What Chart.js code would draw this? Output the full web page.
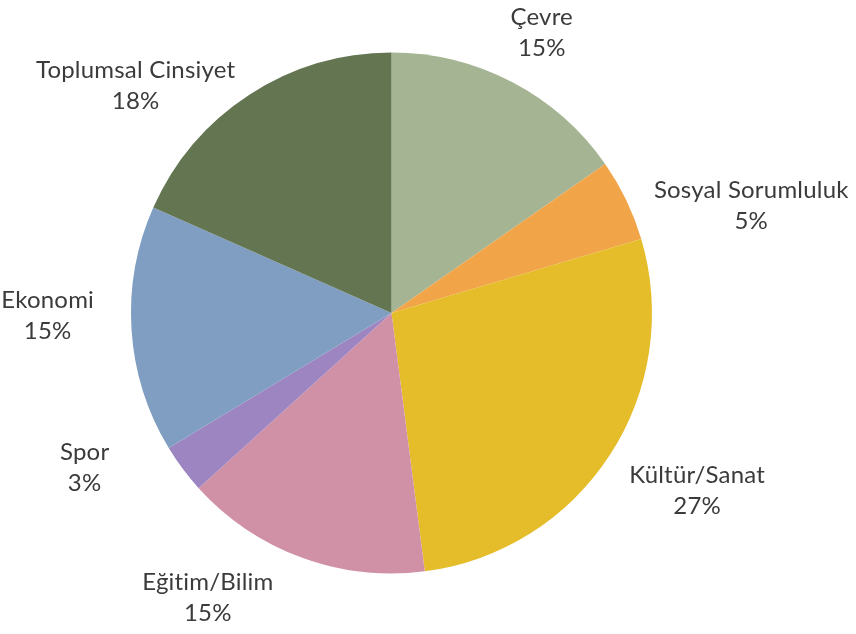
<!DOCTYPE html>
<html lang="tr">
<head>
<meta charset="utf-8">
<title>Konu Dağılımı</title>
<script src="https://cdn.jsdelivr.net/npm/chart.js@4/dist/chart.umd.min.js"></script>
<style>
    html, body { margin: 0; padding: 0; background: #fff; }
    #wrap { width: 856px; height: 634px; position: relative; }
</style>
</head>
<body>
<div id="wrap"><canvas id="pie"></canvas></div>
<script>
// konular ve yüzdeleri (saat yönünde, tepeden başlayarak)
const categories = ['Çevre', 'Sosyal Sorumluluk', 'Kültür/Sanat', 'Eğitim/Bilim', 'Spor', 'Ekonomi', 'Toplumsal Cinsiyet'];
const percents = [15, 5, 27, 15, 3, 15, 18];
const sliceColors = ['#A5B492', '#F2A548', '#E5BD2A', '#D091A6', '#9D85C1', '#809EC2', '#647552'];

// etiketlerin dilim ortasından uzaklığı ve elle kaydırma (Excel yerleşimine benzetmek için)
const labelGap = 60;
const labelNudge = [[2, 4], [71, 32], [37, 3], [-73, -16], [-50, -37], [-24, -18], [-81, 41]];

const outsideLabels = {
    id: 'outsideLabels',
    afterDatasetsDraw(chart) {
        const ctx = chart.ctx;
        const meta = chart.getDatasetMeta(0);
        ctx.save();
        ctx.font = '24px Lato, "Open Sans", sans-serif';
        ctx.letterSpacing = '0.2px'; // "ti" bitişik harfini engeller
        ctx.fillStyle = '#3b3b3b';
        ctx.textAlign = 'center';
        ctx.textBaseline = 'middle';
        meta.data.forEach((arc, i) => {
            const p = arc.getProps(['x', 'y', 'startAngle', 'endAngle', 'outerRadius'], true);
            const mid = (p.startAngle + p.endAngle) / 2;
            const R = p.outerRadius + labelGap;
            const cx = p.x + Math.cos(mid) * R + labelNudge[i][0];
            const cy = p.y + Math.sin(mid) * R + labelNudge[i][1];
            ctx.fillText(categories[i], cx, cy - 15.5);
            ctx.fillText(percents[i] + '%', cx, cy + 15.5);
        });
        ctx.restore();
    }
};

new Chart(document.getElementById('pie'), {
    type: 'pie',
    data: {
        labels: categories,
        datasets: [{
            data: percents,
            backgroundColor: sliceColors,
            borderWidth: 0
        }]
    },
    options: {
        responsive: true,
        maintainAspectRatio: false,
        animation: false,
        layout: { padding: { top: 52, bottom: 60, left: 131, right: 204 } },
        plugins: {
            legend: { display: false },
            tooltip: { enabled: false }
        }
    },
    plugins: [outsideLabels]
});
</script>
</body>
</html>
